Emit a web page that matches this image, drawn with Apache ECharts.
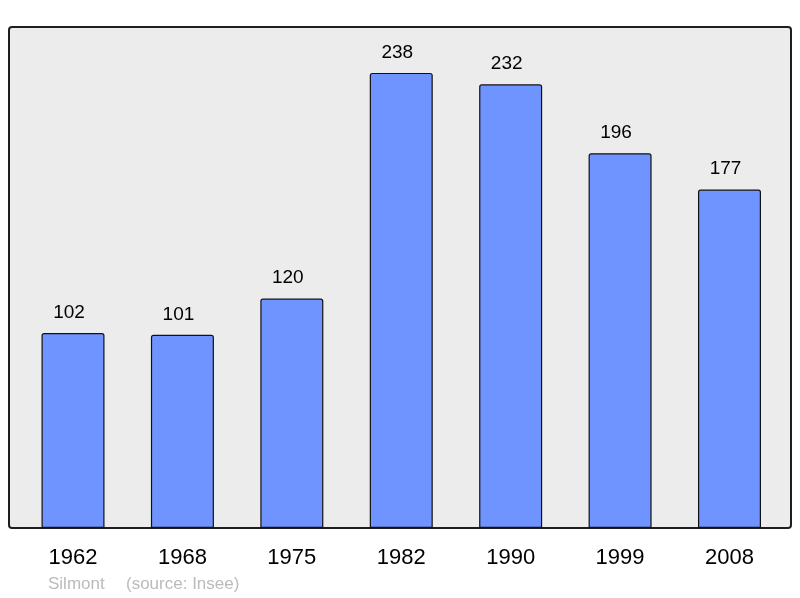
<!DOCTYPE html>
<html>
<head>
<meta charset="utf-8">
<script src="https://cdn.jsdelivr.net/npm/echarts@6/dist/echarts.min.js"></script>
<style>html,body{margin:0;padding:0;background:#fff}#c{width:800px;height:598px}</style>
</head>
<body>
<div id="c"></div>
<script>
const years = ['1962','1968','1975','1982','1990','1999','2008'];
const population = [102, 101, 120, 238, 232, 196, 177];
const commune = 'Silmont';
const source = '(source: Insee)';

const chart = echarts.init(document.getElementById('c'));
chart.setOption({
  animation: false,
  backgroundColor: '#ffffff',
  textStyle: { fontFamily: 'Liberation Sans, Arial, sans-serif' },
  grid: { left: 18.3, right: 15.8, top: 27, bottom: 70 },
  graphic: [
    { type: 'rect', z: -10, shape: { x: 9, y: 27, width: 782, height: 501, r: 3 },
      style: { fill: '#ececec', stroke: '#1e1e1e', lineWidth: 2 } },
    { type: 'text', left: 48, top: 576, style: { text: commune, fill: '#bbbbbb', font: '17px Liberation Sans, Arial, sans-serif' } },
    { type: 'text', left: 126, top: 576, style: { text: source, fill: '#bbbbbb', font: '17px Liberation Sans, Arial, sans-serif' } }
  ],
  xAxis: {
    type: 'category', data: years,
    axisLine: { show: false }, axisTick: { show: false },
    axisLabel: { color: '#000', fontSize: 22, margin: 19, fontFamily: 'Liberation Sans, Arial, sans-serif' }
  },
  yAxis: { type: 'value', min: 0, max: 262, show: false, splitLine: { show: false } },
  series: [{
    type: 'bar', data: population, barWidth: 63,
    itemStyle: { color: '#7094ff', borderColor: '#111111', borderWidth: 1.2, borderRadius: [2,2,0,0] },
    label: { show: true, position: 'top', distance: 11, offset: [-4, 0], color: '#000', fontSize: 19, fontFamily: 'Liberation Sans, Arial, sans-serif' }
  }]
});
</script>
</body>
</html>
